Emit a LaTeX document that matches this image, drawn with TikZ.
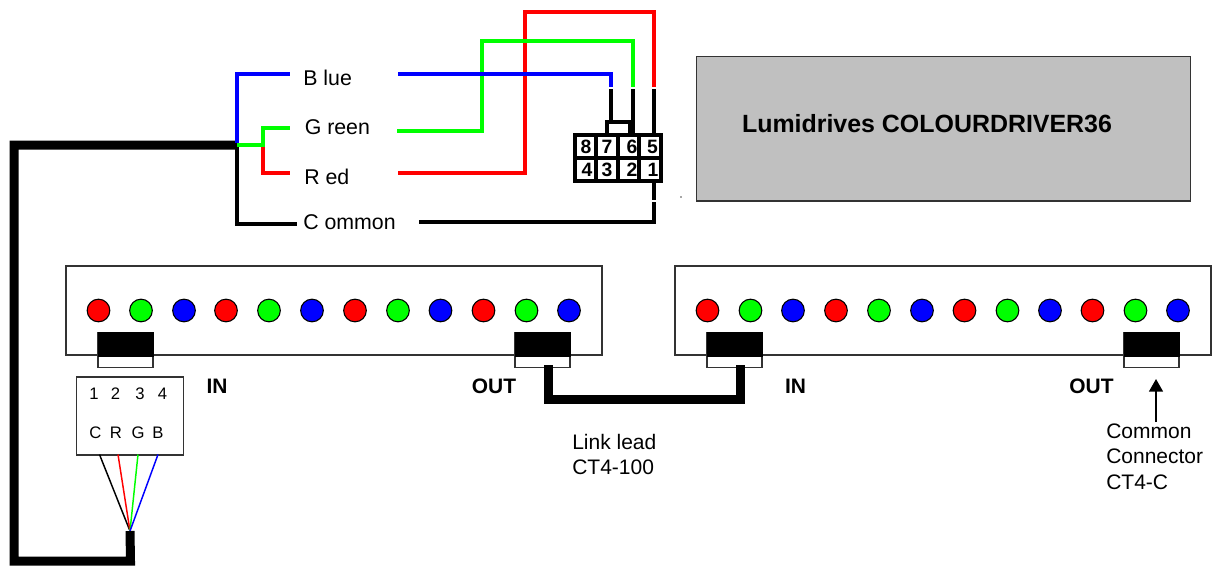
\documentclass[tikz,border=0pt]{standalone}
\usepackage{fontspec}
\setmainfont{Liberation Sans}
\usetikzlibrary{arrows.meta}
\definecolor{wirered}{RGB}{255,0,0}
\definecolor{wiregreen}{RGB}{0,255,0}
\definecolor{wireblue}{RGB}{0,0,255}
\definecolor{drivergrey}{RGB}{192,192,192}
\tikzset{
  wire/.style={line width=3pt,line join=miter},
  cable/.style={line width=6.75pt,line join=miter},
  fine/.style={line width=1.1pt},
  panel/.style={draw=black!80,line width=1.1pt,fill=white,minimum width=402pt,minimum height=66.75pt,inner sep=0pt},
  led/.style={circle,draw=black,line width=0.8pt,minimum size=17pt,inner sep=0pt},
  plugbody/.style={draw=black,fill=black,minimum width=41.25pt,minimum height=18pt,inner sep=0pt},
  plugfoot/.style={draw=black!80,line width=1.1pt,fill=white,minimum width=41.25pt,minimum height=26pt,inner sep=0pt},
  wirelabel/.style={anchor=west,inner sep=0pt,font=\fontsize{16}{18}\selectfont},
  boldlabel/.style={inner sep=0pt,font=\fontsize{15.7}{18}\selectfont\bfseries},
  note/.style={anchor=west,align=left,inner sep=0pt,font=\fontsize{15.75}{19}\selectfont},
  pinnum/.style={inner sep=0pt,font=\fontsize{14.5}{16}\selectfont\bfseries},
  smallnum/.style={inner sep=0pt,font=\fontsize{12.5}{14}\selectfont}
}
\begin{document}
\begin{tikzpicture}[x=0.75pt,y=-0.75pt]
\useasboundingbox (0,0) rectangle (1216,565);

\node[draw=black!80,line width=0.8pt,fill=drivergrey,minimum width=370.5pt,minimum height=108.4pt,inner sep=0pt] (driver) at (943.5,128.7) {};
\node[inner sep=0pt,font=\fontsize{18.7}{20}\selectfont\bfseries] (drivername) at (927,124) {Lumidrives COLOURDRIVER36};
\fill[black!70] (681,197) circle (0.6pt);

\node[panel] (panelL) at (334,310.5) {};
\node[panel] (panelR) at (943,310.5) {};

\node[led,fill=wirered] (ledA1) at (98.5,310.5) {};
\node[led,fill=wiregreen] (ledA2) at (141,310.5) {};
\node[led,fill=wireblue] (ledA3) at (184,310.5) {};
\node[led,fill=wirered] (ledA4) at (226,310.5) {};
\node[led,fill=wiregreen] (ledA5) at (269,310.5) {};
\node[led,fill=wireblue] (ledA6) at (312,310.5) {};
\node[led,fill=wirered] (ledA7) at (355,310.5) {};
\node[led,fill=wiregreen] (ledA8) at (398,310.5) {};
\node[led,fill=wireblue] (ledA9) at (440.5,310.5) {};
\node[led,fill=wirered] (ledA10) at (483.5,310.5) {};
\node[led,fill=wiregreen] (ledA11) at (526.5,310.5) {};
\node[led,fill=wireblue] (ledA12) at (569,310.5) {};
\node[led,fill=wirered] (ledB1) at (707.5,310.5) {};
\node[led,fill=wiregreen] (ledB2) at (750.5,310.5) {};
\node[led,fill=wireblue] (ledB3) at (793,310.5) {};
\node[led,fill=wirered] (ledB4) at (836,310.5) {};
\node[led,fill=wiregreen] (ledB5) at (879,310.5) {};
\node[led,fill=wireblue] (ledB6) at (922,310.5) {};
\node[led,fill=wirered] (ledB7) at (964.5,310.5) {};
\node[led,fill=wiregreen] (ledB8) at (1007.5,310.5) {};
\node[led,fill=wireblue] (ledB9) at (1050,310.5) {};
\node[led,fill=wirered] (ledB10) at (1092.5,310.5) {};
\node[led,fill=wiregreen] (ledB11) at (1135.5,310.5) {};
\node[led,fill=wireblue] (ledB12) at (1178,310.5) {};

\node[plugfoot] (footA) at (125.5,350) {};
\node[plugbody] (plugA) at (125.5,344) {};
\node[plugfoot] (footB) at (542.5,350) {};
\node[plugbody] (plugB) at (542.5,344) {};
\node[plugfoot] (footC) at (734.5,350) {};
\node[plugbody] (plugC) at (734.5,344) {};
\node[plugfoot] (footD) at (1151.5,350) {};
\node[plugbody] (plugD) at (1151.5,344) {};

\node[boldlabel] (inA) at (217,386) {IN};
\node[boldlabel] (outA) at (494,386) {OUT};
\node[boldlabel] (inB) at (795.5,386) {IN};
\node[boldlabel] (outB) at (1091.5,386) {OUT};

\coordinate (linkA) at (548,365);
\coordinate (linkB) at (740,365);
\draw[cable] (linkA) |- (644,399.5) -| (linkB);
\node[note] (linklead) at (572,454.5) {Link lead\\CT4-100};

\node[note] (common) at (1106,456.5) {Common\\Connector\\CT4-C};
\coordinate (commontip) at (1156,379);
\coordinate (commonfoot) at (1156,422);
\draw[-{Triangle[length=9.5pt,width=10.5pt]},fine] (commonfoot) -- (commontip);

\node[draw=black!80,line width=1.1pt,fill=white,minimum width=80.25pt,minimum height=58.5pt,inner sep=0pt] (pinbox) at (130,416) {};
\node[smallnum] (num1) at (94,393.5) {1};
\node[smallnum] (num2) at (115.5,393.5) {2};
\node[smallnum] (num3) at (140,393.5) {3};
\node[smallnum] (num4) at (162.5,393.5) {4};
\node[smallnum] (letC) at (95.5,432.5) {C};
\node[smallnum] (letR) at (116,432.5) {R};
\node[smallnum] (letG) at (138,432.5) {G};
\node[smallnum] (letB) at (158,432.5) {B};

\coordinate (fan) at (130,531);
\coordinate (wireC) at (99.5,454.5);
\coordinate (wireR) at (118,454.5);
\coordinate (wireG) at (138,454.5);
\coordinate (wireB) at (158,454.5);
\draw[fine] (wireC) -- (fan);
\draw[fine,wirered] (wireR) -- (fan);
\draw[fine,wiregreen] (wireG) -- (fan);
\draw[fine,wireblue] (wireB) -- (fan);

\coordinate (hub) at (236,145);
\draw[cable] (fan) -- (130.5,561) -- (14,561) -- (14,145) -- (hub);
\draw[wire] (hub) -- (247,145);
\draw[wire] (237,145) |- (297,224);

\node[wirelabel] (bluelabel) at (303,78) {B lue};
\node[wirelabel] (greenlabel) at (304.5,127) {G reen};
\node[wirelabel] (redlabel) at (304,176.5) {R ed};
\node[wirelabel] (commonlabel) at (303,222) {C ommon};

\coordinate (pinblue) at (611,87);
\coordinate (pingreen) at (633,87);
\coordinate (pinred) at (654,87);
\coordinate (pincommon) at (654,202);

\draw[wire,wirered] (263,145) |- (289.5,172.5);
\draw[wire,wirered] (398,172.5) -| (525,12) -| (pinred);
\draw[wire,wiregreen] (397,131) -| (482,41) -| (pingreen);
\draw[wire,wireblue] (398,74) -| (pinblue);
\draw[wire,wireblue] (289.5,74) -| (237,143);
\draw[wire,wiregreen] (237,144.5) -- (263,144.5) |- (289.5,128);
\draw[wire] (419,222) -| (pincommon);

\draw[wire] (611,89) -- (611,122);
\draw[wire] (633,89) -- (633,135);
\draw[wire] (630,122) -- (630,135);
\draw[wire] (654,89) -- (654,135);
\draw[wire] (654,181) -- (654,200);
\draw[wire] (606.5,135) -- (606.5,122) -- (634,122);

\draw[wire] (575,135) rectangle (661,181);
\draw[wire] (575,158) -- (661,158);
\draw[wire] (596,135) -- (596,181);
\draw[wire] (617.5,135) -- (617.5,181);
\draw[wire] (639,135) -- (639,181);

\node[pinnum] (pin8) at (586,146.5) {8};
\node[pinnum] (pin7) at (607,146.5) {7};
\node[pinnum] (pin6) at (632,146.5) {6};
\node[pinnum] (pin5) at (652.5,146.5) {5};
\node[pinnum] (pin4) at (587,170) {4};
\node[pinnum] (pin3) at (607,170) {3};
\node[pinnum] (pin2) at (632,170) {2};
\node[pinnum] (pin1) at (653,170) {1};
\end{tikzpicture}
\end{document}
